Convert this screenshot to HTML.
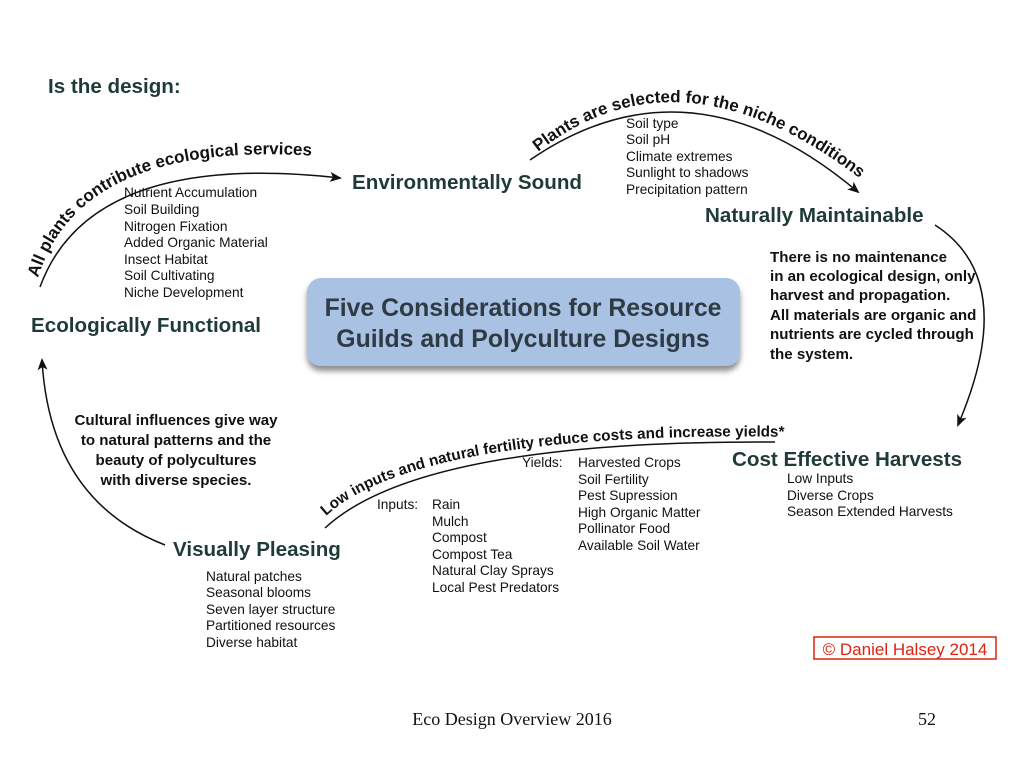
<!DOCTYPE html>
<html><head><meta charset="utf-8"><style>
html,body{margin:0;padding:0;background:#fff;}
svg{display:block;}
.h{font-family:"Liberation Sans",sans-serif;font-weight:bold;fill:#1f3b38;font-size:20.6px;}
.l{font-family:"Liberation Sans",sans-serif;fill:#111;font-size:13.7px;}
.b{font-family:"Liberation Sans",sans-serif;font-weight:bold;fill:#111;font-size:15.1px;}
.c{font-family:"Liberation Sans",sans-serif;font-weight:bold;fill:#111;font-size:17px;}
</style></head><body>
<svg width="1024" height="768" viewBox="0 0 1024 768">
<defs>
<marker id="ar" markerWidth="12" markerHeight="10" refX="10" refY="5" orient="auto" markerUnits="userSpaceOnUse"><path d="M0,0 L12,5 L0,10 L3,5z" fill="#111"/></marker>
<filter id="sh" x="-10%" y="-20%" width="120%" height="160%"><feDropShadow dx="0" dy="5" stdDeviation="3" flood-color="#000" flood-opacity="0.45"/></filter>
<path id="p1" d="M38,278 Q80,140 316,156"/>
<path id="p2" d="M538,152 Q680,40 862,180"/>
<path id="p3" d="M326,516 Q420,430 800,437"/>
</defs>
<text x="48" y="93" class="h">Is the design:</text>

<path d="M40,287 Q90,150 340,178" fill="none" stroke="#111" stroke-width="1.5" marker-end="url(#ar)"/>
<path d="M530,160 Q690,50 858,192" fill="none" stroke="#111" stroke-width="1.5" marker-end="url(#ar)"/>
<path d="M935,225 Q1020,280 958,425" fill="none" stroke="#111" stroke-width="1.5" marker-end="url(#ar)"/>
<path d="M325,528 Q420,440 775,442" fill="none" stroke="#111" stroke-width="1.5"/>
<path d="M165,545 Q50,500 42,360" fill="none" stroke="#111" stroke-width="1.5" marker-end="url(#ar)"/>

<text class="c"><textPath href="#p1">All plants contribute ecological services</textPath></text>
<text class="c"><textPath href="#p2">Plants are selected for the niche conditions</textPath></text>
<text class="c" style="font-size:15.3px"><textPath href="#p3">Low inputs and natural fertility reduce costs and increase yields*</textPath></text>

<text x="352" y="189" class="h">Environmentally Sound</text>
<text x="705" y="222" class="h">Naturally Maintainable</text>
<text x="31" y="332" class="h">Ecologically Functional</text>
<text x="732" y="466" class="h">Cost Effective Harvests</text>
<text x="173" y="556" class="h">Visually Pleasing</text>

<g class="l">
<text x="124" y="197">Nutrient Accumulation</text>
<text x="124" y="214">Soil Building</text>
<text x="124" y="231">Nitrogen Fixation</text>
<text x="124" y="247">Added Organic Material</text>
<text x="124" y="264">Insect Habitat</text>
<text x="124" y="280">Soil Cultivating</text>
<text x="124" y="297">Niche Development</text>

<text x="626" y="128">Soil type</text>
<text x="626" y="144">Soil pH</text>
<text x="626" y="161">Climate extremes</text>
<text x="626" y="177">Sunlight to shadows</text>
<text x="626" y="194">Precipitation pattern</text>

<text x="787" y="483">Low Inputs</text>
<text x="787" y="500">Diverse Crops</text>
<text x="787" y="516">Season Extended Harvests</text>

<text x="522" y="467">Yields:</text>
<text x="578" y="467">Harvested Crops</text>
<text x="578" y="484">Soil Fertility</text>
<text x="578" y="500">Pest Supression</text>
<text x="578" y="517">High Organic Matter</text>
<text x="578" y="533">Pollinator Food</text>
<text x="578" y="550">Available Soil Water</text>

<text x="377" y="509">Inputs:</text>
<text x="432" y="509">Rain</text>
<text x="432" y="526">Mulch</text>
<text x="432" y="542">Compost</text>
<text x="432" y="559">Compost Tea</text>
<text x="432" y="575">Natural Clay Sprays</text>
<text x="432" y="592">Local Pest Predators</text>

<text x="206" y="581">Natural patches</text>
<text x="206" y="597">Seasonal blooms</text>
<text x="206" y="614">Seven layer structure</text>
<text x="206" y="630">Partitioned resources</text>
<text x="206" y="647">Diverse habitat</text>
</g>

<g class="b">
<text x="770" y="262">There is no maintenance</text>
<text x="770" y="281">in an ecological design, only</text>
<text x="770" y="300">harvest and propagation.</text>
<text x="770" y="320">All materials are organic and</text>
<text x="770" y="339">nutrients are cycled through</text>
<text x="770" y="359">the system.</text>
</g>
<g class="b" text-anchor="middle">
<text x="176" y="425">Cultural influences give way</text>
<text x="176" y="445">to natural patterns and the</text>
<text x="176" y="465">beauty of polycultures</text>
<text x="176" y="485">with diverse species.</text>
</g>

<rect x="307" y="278" width="433" height="88" rx="14" fill="#a9c1e3" filter="url(#sh)"/>
<g font-family="Liberation Sans,sans-serif" font-weight="bold" font-size="24.8" fill="#2e3a44" text-anchor="middle">
<text x="523" y="316">Five Considerations for Resource</text>
<text x="523" y="347">Guilds and Polyculture Designs</text>
</g>

<rect x="814" y="637" width="182" height="22" fill="#fff" stroke="#d21" stroke-width="1.5"/>
<text x="905" y="655" text-anchor="middle" font-family="Liberation Sans,sans-serif" font-size="17" fill="#d21">© Daniel Halsey 2014</text>

<text x="512" y="725" text-anchor="middle" font-family="Liberation Serif,serif" font-size="18" fill="#111">Eco Design Overview 2016</text>
<text x="927" y="725" text-anchor="middle" font-family="Liberation Serif,serif" font-size="18" fill="#111">52</text>
</svg>
</body></html>
